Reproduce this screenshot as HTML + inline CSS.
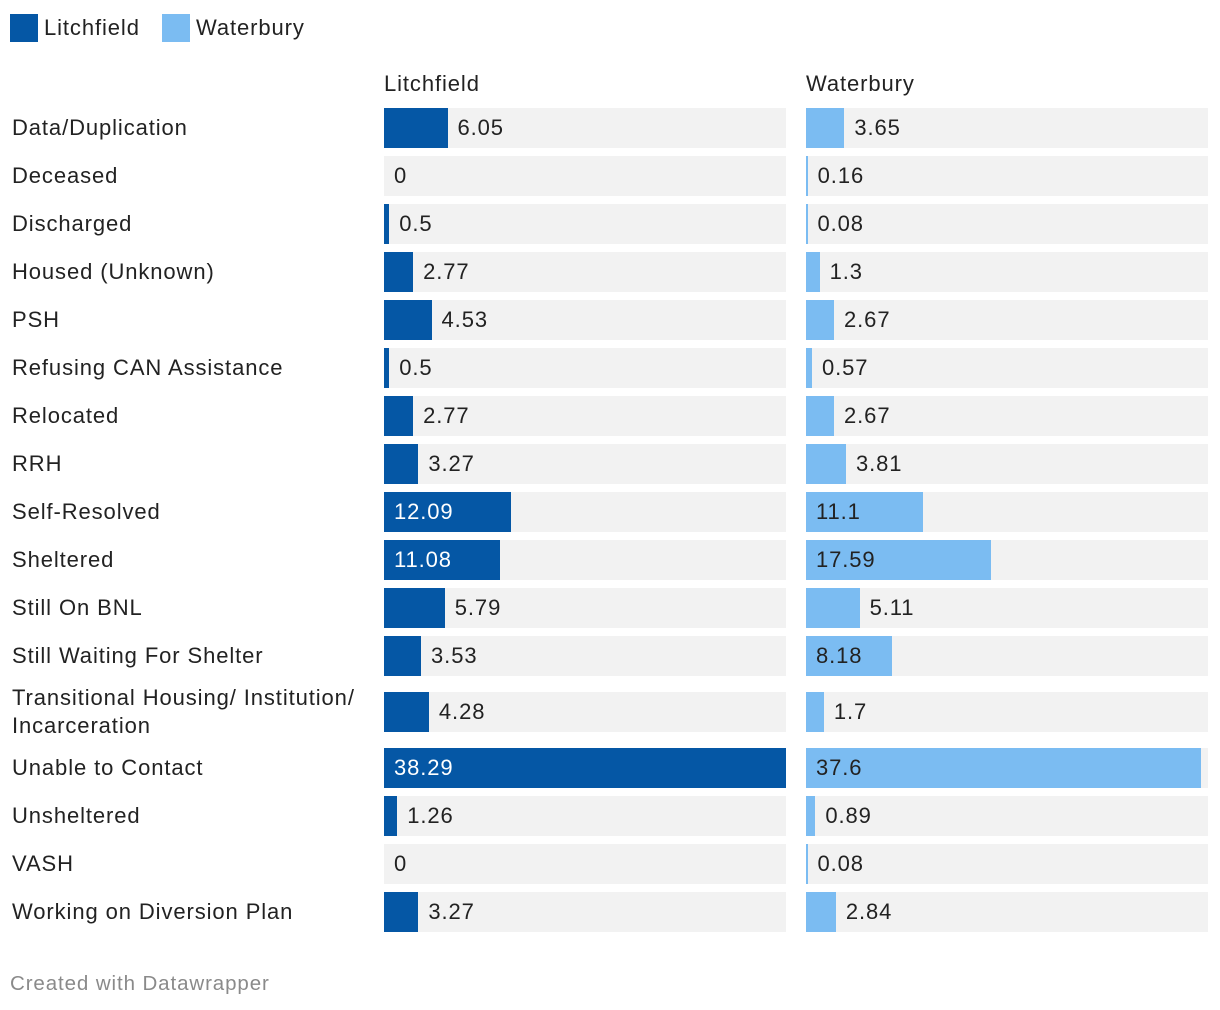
<!DOCTYPE html>
<html><head><meta charset="utf-8">
<style>
body{margin:0;width:1220px;height:1010px;background:#fff;font-family:"Liberation Sans",sans-serif;color:#222;position:relative;overflow:hidden}
.abs{position:absolute;white-space:nowrap;letter-spacing:0.9px}
.sw{position:absolute;width:28px;height:28px;top:14px}
.lab{font-size:22px;line-height:28px}
.val{font-size:22px;line-height:40px}
</style></head><body>
<div class="sw" style="left:10px;background:#0557a5"></div>
<div class="abs lab" style="left:44px;top:14px">Litchfield</div>
<div class="sw" style="left:162px;background:#7bbcf2"></div>
<div class="abs lab" style="left:196px;top:14px">Waterbury</div>
<div class="abs lab" style="left:384px;top:70px">Litchfield</div>
<div class="abs lab" style="left:806px;top:70px">Waterbury</div>
<div id="chart"></div>
<div class="abs" style="left:10px;top:972px;font-size:20.5px;color:#8a8a8a">Created with Datawrapper</div>
<script>
const categories=["Data/Duplication","Deceased","Discharged","Housed (Unknown)","PSH","Refusing CAN Assistance","Relocated","RRH","Self-Resolved","Sheltered","Still On BNL","Still Waiting For Shelter","Transitional Housing/ Institution/<br>Incarceration","Unable to Contact","Unsheltered","VASH","Working on Diversion Plan"];
const litchfield=[6.05,0,0.5,2.77,4.53,0.5,2.77,3.27,12.09,11.08,5.79,3.53,4.28,38.29,1.26,0,3.27];
const waterbury=[3.65,0.16,0.08,1.3,2.67,0.57,2.67,3.81,11.1,17.59,5.11,8.18,1.7,37.6,0.89,0.08,2.84];
const maxV=38.29, W=402;
const xScale=v=>v/maxV*W;
const chart=document.getElementById('chart');
function add(tag,css,name,html){const e=document.createElement(tag);e.className='abs';e.style.cssText=css;if(html!==undefined)e.innerHTML=html;


chart.appendChild(e);return e;}
let rowY=108;
categories.forEach((c,i)=>{
  const two=c.includes('<br>');
  const barTop=two?rowY+8:rowY;
  add('div',`left:12px;top:${barTop+20-(two?28:14)}px;font-size:22px;line-height:28px`,'row-label',c);
  [[litchfield,384,'#0557a5','#fff','litchfield'],[waterbury,806,'#7bbcf2','#222','waterbury']].forEach(([arr,x0,col,inCol,nm])=>{
    const v=arr[i];
    add('div',`left:${x0}px;top:${barTop}px;width:${W}px;height:40px;background:#f2f2f2`,'bar-track-'+nm);
    const w=v>0?Math.max(xScale(v),1.5):0;
    add('div',`left:${x0}px;top:${barTop}px;width:${w}px;height:40px;background:${col}`,'bar-'+nm);
    const t=String(v);
    const inside=w>75;
    add('div',`left:${inside?x0+10:x0+w+10}px;top:${barTop}px;color:${inside?inCol:'#222'}`,'value-label-'+nm,t).className='abs val';
  });
  rowY+= two?64:48;
});
</script>
</body></html>
